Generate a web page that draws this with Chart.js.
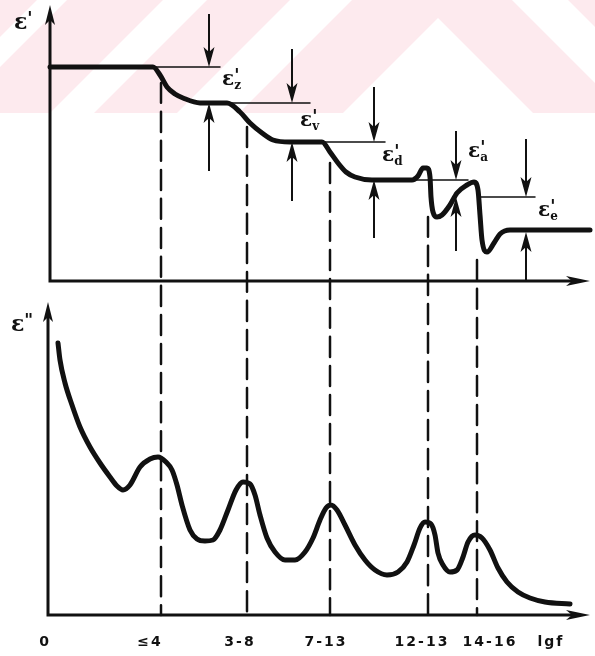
<!DOCTYPE html>
<html>
<head>
<meta charset="utf-8">
<script src="https://cdn.jsdelivr.net/npm/chart.js@4.4.1/dist/chart.umd.min.js"></script>
<style>
  html, body { margin: 0; padding: 0; background: #fff; }
  canvas { display: block; }
</style>
</head>
<body>
<canvas id="dielectric" width="595" height="656"></canvas>
<script>
// Upper panel: real part eps' against lg f (x in position units along the frequency axis)
const epsRealX = [0, 10.3, 11, 11.7, 12.5, 13.3, 15, 17.7, 19, 20, 21.2, 22.3, 24, 27.2, 28, 28.8, 29.6, 30.5, 32.2,
  36.2, 36.8, 37.3, 37.7, 38, 38.1, 38.3, 38.7, 39.2, 40, 40.7, 41.7, 42.4, 42.8, 43, 43.2, 43.7, 44.4, 45, 46, 54];
const epsRealY = [21.4, 21.4, 20.6, 19.4, 18.7, 18.3, 17.8, 17.8, 16.9, 15.8, 14.8, 14.1, 13.9, 13.9, 12.9, 11.8, 10.9, 10.4, 10.1,
  10.1, 10.5, 11.3, 11.3, 10.4, 8.4, 6.9, 6.4, 6.6, 7.6, 8.8, 9.6, 9.9, 9.1, 6.6, 4.1, 2.9, 3.8, 4.7, 5.1, 5.1];

// Lower panel: loss eps''
const epsLossX = [0.8, 1, 1.5, 2.2, 3, 4, 5, 6, 6.7, 7.3, 8, 9, 10, 10.8, 11.6, 12.2, 12.7, 13.2, 14, 14.7, 15.5, 16.3,
  17, 17.8, 18.6, 19.3, 20, 20.5, 21, 21.7, 22.5, 23.5, 24.5, 25.5, 26.3, 27, 27.6, 28.1, 28.7, 29.5, 30.5, 31.5,
  32.5, 33.7, 34.8, 35.7, 36.4, 37, 37.5, 38.1, 38.5, 38.8, 39.3, 40, 40.7, 41.3, 41.8, 42.5, 43.2, 44, 44.8,
  45.7, 46.8, 48, 49.5, 52];
const epsLossY = [27.2, 25.5, 23.2, 21, 18.8, 16.8, 15.2, 13.8, 12.9, 12.5, 13, 14.8, 15.6, 15.8, 15.3, 14.5, 13, 11, 8.5, 7.6, 7.4, 7.5,
  8.5, 10.5, 12.5, 13.3, 13.1, 12, 10, 7.7, 6.3, 5.5, 5.5, 6.3, 7.7, 9.5, 10.7, 11, 10.5, 9, 7, 5.5,
  4.5, 4, 4.3, 5.3, 7, 8.7, 9.3, 9.1, 8, 6.2, 5, 4.3, 4.5, 5.8, 7.3, 8, 7.7, 6.5, 4.7,
  3.3, 2.3, 1.7, 1.3, 1.1];

// Dispersion regions: dashed markers from the eps' curve down to the lower axis
const regionX = [11.1, 19.7, 28, 37.8, 42.7];
const regionTop = [19.8, 15.4, 11.8, 6.4, 2.1];

// Step arrows for each increment of eps'
const stepX = [15.9, 24.2, 32.4, 40.6, 47.6];
const stepUpper = [21.4, 17.8, 13.9, 10.1, 8.4];
const stepLower = [17.8, 13.9, 10.1, 8.4, 4.9];
const stepFrom = [26.6, 23.1, 19.3, 14.9, 14.1];
const stepTo = [11.1, 8.1, 4.4, 3.1, 0.1];
const stepNames = ['z', 'v', 'd', 'a', 'e'];
const stepLabelX = [17.2, 25, 33.2, 41.8, 48.8];
const stepLabelY = [20.1, 16, 12.5, 12.9, 7];

// Thin level guides
const guideY = [21.4, 17.8, 13.9, 10.1, 8.4];
const guideFrom = [10.3, 15, 24, 32, 43];
const guideTo = [17, 26, 33.5, 41.8, 48.5];

// Frequency ranges under the lower axis
const tickPos = [-0.5, 10, 19, 27.6, 37.2, 44, 50.1];
const tickText = ['0', '≤4', '3-8', '7-13', '12-13', '14-16', 'lgf'];

const ink = '#111';

const datasets = [
  { data: epsRealX.map((x, i) => ({ x, y: epsRealY[i] })), yAxisID: 'yTop', borderWidth: 5 },
  { data: epsLossX.map((x, i) => ({ x, y: epsLossY[i] })), yAxisID: 'yBot', borderWidth: 5 }
];
regionX.forEach((x, i) => {
  datasets.push({ data: [{ x, y: regionTop[i] }, { x, y: -33.4 }], yAxisID: 'yTop', borderWidth: 2.5, borderDash: [20, 9] });
});
guideY.forEach((y, i) => {
  datasets.push({ data: [{ x: guideFrom[i], y }, { x: guideTo[i], y }], yAxisID: 'yTop', borderWidth: 1.5 });
});
datasets.forEach(d => {
  d.borderColor = ink;
  d.pointRadius = 0;
  d.fill = false;
  d.cubicInterpolationMode = 'monotone';
  d.borderCapStyle = 'round';
});

function head(ctx, x, y, dx, dy, len, half) {
  // filled arrowhead with its tip at (x, y) pointing along (dx, dy)
  ctx.beginPath();
  ctx.moveTo(x, y);
  ctx.lineTo(x - dx * len - dy * half, y - dy * len - dx * half);
  ctx.lineTo(x - dx * len * 0.75, y - dy * len * 0.75);
  ctx.lineTo(x - dx * len + dy * half, y - dy * len + dx * half);
  ctx.closePath();
  ctx.fill();
}

function epsLabel(ctx, x, y, mark, sub, size) {
  ctx.textAlign = 'left';
  ctx.textBaseline = 'middle';
  ctx.font = `bold ${size}px "DejaVu Serif"`;
  ctx.fillText('ε', x, y);
  const w = ctx.measureText('ε').width;
  ctx.font = 'bold 17px "DejaVu Sans"';
  ctx.fillText(mark, x + w, y - 3);
  if (sub) {
    ctx.font = 'bold 12px "DejaVu Serif"';
    ctx.fillText(sub, x + w, y + 6);
  }
}

const watermark = {
  id: 'watermark',
  beforeDraw(chart) {
    const ctx = chart.ctx;
    ctx.save();
    ctx.fillStyle = '#fff';
    ctx.fillRect(0, 0, chart.width, chart.height);
    ctx.beginPath();
    ctx.rect(0, 0, chart.width, 113);
    ctx.clip();
    ctx.fillStyle = '#fdeaee';
    ctx.fillRect(0, 0, chart.width, 113);
    ctx.fillStyle = '#fff';
    const bands = [
      [[37, 0], [67, 0], [-46, 113], [-76, 113]],
      [[163, 0], [207, 0], [94, 113], [50, 113]],
      [[290, 0], [352, 0], [239, 113], [177, 113]],
      [[438, 18], [533, 113], [343, 113]],
      [[512, 0], [568, 0], [681, 113], [625, 113]]
    ];
    bands.forEach(p => {
      ctx.beginPath();
      p.forEach(([x, y], i) => (i ? ctx.lineTo(x, y) : ctx.moveTo(x, y)));
      ctx.closePath();
      ctx.fill();
    });
    ctx.restore();
  }
};

const schematic = {
  id: 'schematic',
  afterDatasetsDraw(chart) {
    const ctx = chart.ctx;
    const sx = chart.scales.x, st = chart.scales.yTop, sb = chart.scales.yBot;
    ctx.save();
    ctx.strokeStyle = ink;
    ctx.fillStyle = ink;
    ctx.lineCap = 'square';

    // axes of both panels
    ctx.lineWidth = 3;
    const x0 = sx.getPixelForValue(0), xEnd = sx.getPixelForValue(54);
    const yt0 = st.getPixelForValue(0), ytTop = st.getPixelForValue(27.6);
    const xb0 = sx.getPixelForValue(-0.2), yb0 = sb.getPixelForValue(0), ybTop = sb.getPixelForValue(31.3);
    ctx.beginPath();
    ctx.moveTo(x0, ytTop + 12); ctx.lineTo(x0, yt0); ctx.lineTo(xEnd - 14, yt0);
    ctx.moveTo(xb0, ybTop + 12); ctx.lineTo(xb0, yb0); ctx.lineTo(xEnd - 14, yb0);
    ctx.stroke();
    head(ctx, x0, ytTop, 0, -1, 20, 5);
    head(ctx, xb0, ybTop, 0, -1, 20, 5);
    head(ctx, xEnd, yt0, 1, 0, 24, 5);
    head(ctx, xEnd, yb0, 1, 0, 24, 5);

    // step arrows pointing at each level of eps'
    ctx.lineWidth = 2;
    stepX.forEach((v, i) => {
      const px = sx.getPixelForValue(v);
      const up = st.getPixelForValue(stepUpper[i]), lo = st.getPixelForValue(stepLower[i]);
      const a = st.getPixelForValue(stepFrom[i]), b = st.getPixelForValue(stepTo[i]);
      ctx.beginPath();
      ctx.moveTo(px, a); ctx.lineTo(px, up - 10);
      ctx.moveTo(px, b); ctx.lineTo(px, lo + 10);
      ctx.stroke();
      head(ctx, px, up, 0, 1, 20, 5.5);
      head(ctx, px, lo, 0, -1, 20, 5.5);
      epsLabel(ctx, sx.getPixelForValue(stepLabelX[i]), st.getPixelForValue(stepLabelY[i]), "'", stepNames[i], 20);
    });

    // axis titles
    epsLabel(ctx, sx.getPixelForValue(-3.6), st.getPixelForValue(25.8), "'", null, 22);
    epsLabel(ctx, sx.getPixelForValue(-3.9), sb.getPixelForValue(29), '"', null, 22);

    // range labels along lg f
    ctx.font = 'bold 14px "DejaVu Sans"';
    ctx.letterSpacing = '2px';
    ctx.textAlign = 'center';
    ctx.textBaseline = 'middle';
    const ty = sb.getPixelForValue(-2.7);
    tickPos.forEach((v, i) => ctx.fillText(tickText[i], sx.getPixelForValue(v), ty));
    ctx.restore();
  }
};

new Chart(document.getElementById('dielectric'), {
  type: 'line',
  data: { datasets },
  options: {
    responsive: false,
    animation: false,
    layout: { padding: { left: 50, right: 5, top: 5, bottom: 41 } },
    plugins: { legend: { display: false }, tooltip: { enabled: false } },
    scales: {
      x: { type: 'linear', min: 0, max: 54, display: false },
      yTop: { type: 'linear', min: -33.4, max: 27.6, display: false },
      yBot: { type: 'linear', min: 0, max: 61, display: false }
    },
    clip: false
  },
  plugins: [watermark, schematic]
});
</script>
</body>
</html>
